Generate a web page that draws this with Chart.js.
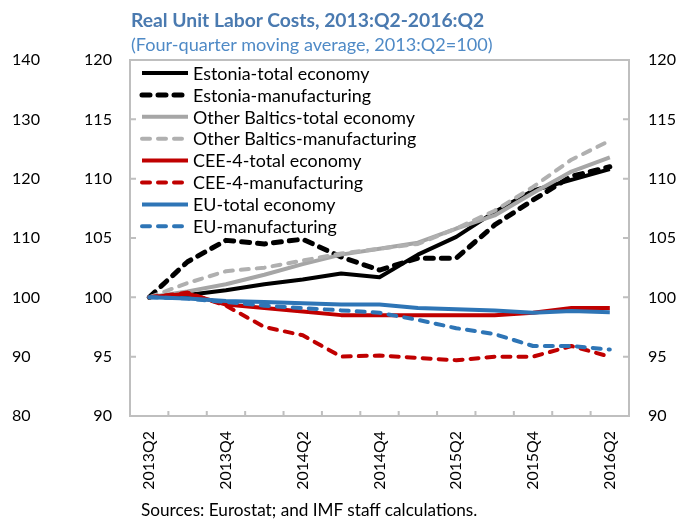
<!DOCTYPE html>
<html>
<head>
<meta charset="utf-8">
<script src="https://cdn.jsdelivr.net/npm/chart.js@4.4.0/dist/chart.umd.min.js"></script>
<style>
  body { margin: 0; background: #fff; }
  #wrap { position: relative; width: 681px; height: 527px; font-family: Lato, 'Open Sans', sans-serif; }
  #wrap div { position: absolute; white-space: nowrap; line-height: 1; }
  #title { left: 131px; font-weight: bold; color: #4a7ab0; }
  #subtitle { left: 131px; color: #4f8ac6; }
  #source { left: 141px; color: #000; }
  canvas { position: absolute; left: 0; top: 0; }
</style>
</head>
<body>
<div id="wrap">
  <canvas id="rulcChart" width="681" height="527"></canvas>
  <div id="title">Real Unit Labor Costs, 2013:Q2-2016:Q2</div>
  <div id="subtitle">(Four-quarter moving average, 2013:Q2=100)</div>
  <div id="source">Sources: Eurostat; and IMF staff calculations.</div>
</div>
<script>
// 데이터 (그림에서 읽은 값, 2013:Q2=100)
const quarters = ['2013Q2', '2013Q3', '2013Q4', '2014Q1', '2014Q2', '2014Q3', '2014Q4',
                  '2015Q1', '2015Q2', '2015Q3', '2015Q4', '2016Q1', '2016Q2'];

const estoniaTotal = [100, 100.2, 100.6, 101.1, 101.5, 102.0, 101.7, 103.6, 105.1, 107.2, 109.0, 109.9, 110.8];
const estoniaManuf = [100, 103.0, 104.8, 104.5, 104.9, 103.4, 102.3, 103.3, 103.3, 106.1, 108.2, 110.2, 111.0];
const balticsTotal = [100, 100.5, 101.1, 101.9, 102.8, 103.6, 104.1, 104.6, 105.8, 106.9, 108.8, 110.6, 111.8];
const balticsManuf = [100, 101.2, 102.2, 102.5, 103.1, 103.7, 104.1, 104.5, 105.8, 107.3, 109.3, 111.6, 113.2];
const ceeTotal     = [100, 100.3, 99.4, 99.1, 98.8, 98.5, 98.5, 98.5, 98.5, 98.5, 98.7, 99.1, 99.1];
const ceeManuf     = [100, 100.4, 99.3, 97.5, 96.8, 95.0, 95.1, 94.9, 94.7, 95.0, 95.0, 95.9, 95.0];
const euTotal      = [100, 99.9, 99.7, 99.6, 99.5, 99.4, 99.4, 99.1, 99.0, 98.9, 98.7, 98.85, 98.75];
const euManuf      = [100, 99.9, 99.6, 99.3, 99.1, 98.9, 98.7, 98.1, 97.4, 96.9, 95.9, 95.9, 95.6];

const seriesLabels = ['Estonia-total economy', 'Estonia-manufacturing',
                      'Other Baltics-total economy', 'Other Baltics-manufacturing',
                      'CEE-4-total economy', 'CEE-4-manufacturing',
                      'EU-total economy', 'EU-manufacturing'];

const innerTicks = [90, 95, 100, 105, 110, 115, 120];
const outerTicks = [80, 90, 100, 110, 120, 130, 140];

const BORDER = '#bfbfbf';

// 원본(Calibri) 글자 폭에 맞춰 Lato 크기 계산
const measureCtx = document.createElement('canvas').getContext('2d');
function fitSize(text, width, weight) {
    measureCtx.font = (weight || 'normal') + ' 100px Lato';
    return Math.round(100 * width / measureCtx.measureText(text).width * 10) / 10;
}
const tickSize = fitSize('140', 28);
const xTickSize = fitSize('2013Q2', 59);
const legendSize = fitSize('Estonia-total economy', 177);

// 제목, 부제, 출처 위치 (baseline 기준)
function placeText(id, size, baseline) {
    const el = document.getElementById(id);
    el.style.fontSize = size + 'px';
    el.style.top = (baseline - 0.887 * size) + 'px';
}
placeText('title', fitSize('Real Unit Labor Costs, 2013:Q2-2016:Q2', 354, 'bold'), 27);
placeText('subtitle', fitSize('(Four-quarter moving average, 2013:Q2=100)', 362), 51);
placeText('source', fitSize('Sources: Eurostat; and IMF staff calculations.', 337), 516);

function line(i, data, color, dashed, width) {
    return {
        label: seriesLabels[i],
        data: data,
        borderColor: color,
        backgroundColor: color,
        borderWidth: width,
        borderDash: dashed ? [8, 8] : [],
        borderCapStyle: dashed ? 'round' : 'butt',
        borderJoinStyle: 'round',
        pointRadius: 0,
        tension: 0,
        fill: false,
        order: -i, // 엑셀처럼 뒤 시리즈가 위에 그려지게
        yAxisID: 'y'
    };
}

// 차트 영역 테두리 + 안쪽 눈금
const frameAndTicks = {
    id: 'frameAndTicks',
    beforeDatasetsDraw(chart) {
        const { ctx, chartArea: a, scales } = chart;
        ctx.save();
        ctx.strokeStyle = BORDER;
        ctx.lineWidth = 2;
        ctx.strokeRect(a.left, a.top, a.right - a.left, a.bottom - a.top);
        ctx.beginPath();
        for (let i = 0; i < quarters.length - 1; i++) {
            const x = (scales.x.getPixelForValue(i) + scales.x.getPixelForValue(i + 1)) / 2;
            ctx.moveTo(x, a.bottom);
            ctx.lineTo(x, a.bottom - 5);
        }
        innerTicks.slice(1, -1).forEach(v => {
            const y = scales.y.getPixelForValue(v);
            ctx.moveTo(a.left, y);
            ctx.lineTo(a.left + 6, y);
            ctx.moveTo(a.right, y);
            ctx.lineTo(a.right - 6, y);
        });
        ctx.stroke();
        ctx.restore();
    }
};

// 범례를 차트 안쪽 왼쪽 위에 그림
const insideLegend = {
    id: 'insideLegend',
    afterDatasetsDraw(chart) {
        const { ctx, chartArea: a } = chart;
        ctx.save();
        ctx.font = legendSize + 'px Lato, sans-serif';
        ctx.textBaseline = 'middle';
        ctx.fillStyle = '#000';
        chart.data.datasets.forEach((ds, i) => {
            const y = a.top + 13 + i * 21.9;
            ctx.strokeStyle = ds.borderColor;
            ctx.lineWidth = ds.borderWidth;
            ctx.lineCap = ds.borderCapStyle;
            ctx.setLineDash(ds.borderDash);
            ctx.beginPath();
            ctx.moveTo(a.left + 12, y);
            ctx.lineTo(a.left + 58, y);
            ctx.stroke();
            ctx.setLineDash([]);
            ctx.fillText(ds.label, a.left + 63, y + 1);
        });
        ctx.restore();
    }
};

const ctx = document.getElementById('rulcChart').getContext('2d');
new Chart(ctx, {
    type: 'line',
    data: {
        labels: quarters,
        datasets: [
            line(0, estoniaTotal, '#000000', false, 4),
            line(1, estoniaManuf, '#000000', true, 5),
            line(2, balticsTotal, '#a6a6a6', false, 4),
            line(3, balticsManuf, '#b0b0b0', true, 4),
            line(4, ceeTotal, '#c00000', false, 4),
            line(5, ceeManuf, '#c00000', true, 4),
            line(6, euTotal, '#2e75b6', false, 4),
            line(7, euManuf, '#2e75b6', true, 4)
        ]
    },
    options: {
        responsive: false,
        animation: false,
        devicePixelRatio: 1,
        layout: { padding: { left: 12, top: 60, right: 0, bottom: 0 } },
        plugins: {
            legend: { display: false },
            title: { display: false },
            tooltip: { enabled: false }
        },
        scales: {
            x: {
                type: 'category',
                offset: true,
                grid: { display: false, drawTicks: false },
                border: { display: false },
                ticks: {
                    autoSkip: false,
                    maxRotation: 90,
                    minRotation: 90,
                    padding: 15,
                    color: '#000',
                    font: { family: 'Lato', size: xTickSize },
                    callback: function (val, idx) {
                        return idx % 2 === 0 ? quarters[idx] : '';
                    }
                },
                afterFit: s => { s.height = 111; }
            },
            y: {
                position: 'left',
                weight: 0,
                min: 90,
                max: 120,
                grid: { display: false, drawTicks: false },
                border: { display: false },
                ticks: {
                    stepSize: 5,
                    padding: 18,
                    color: '#000',
                    font: { family: 'Lato', size: tickSize }
                },
                afterFit: s => { s.width = 58; }
            },
            yOuter: {
                position: 'left',
                weight: 1,
                display: true,
                min: outerTicks[0],
                max: outerTicks[outerTicks.length - 1],
                grid: { display: false, drawTicks: false },
                border: { display: false },
                ticks: {
                    stepSize: 10,
                    crossAlign: 'far',
                    color: '#000',
                    font: { family: 'Lato', size: tickSize }
                },
                afterFit: s => { s.width = 60; }
            },
            y2: {
                position: 'right',
                display: true,
                min: 90,
                max: 120,
                grid: { display: false, drawTicks: false },
                border: { display: false },
                ticks: {
                    stepSize: 5,
                    padding: 19,
                    color: '#000',
                    font: { family: 'Lato', size: tickSize }
                },
                afterFit: s => { s.width = 52; }
            }
        }
    },
    plugins: [frameAndTicks, insideLegend]
});
</script>
</body>
</html>
